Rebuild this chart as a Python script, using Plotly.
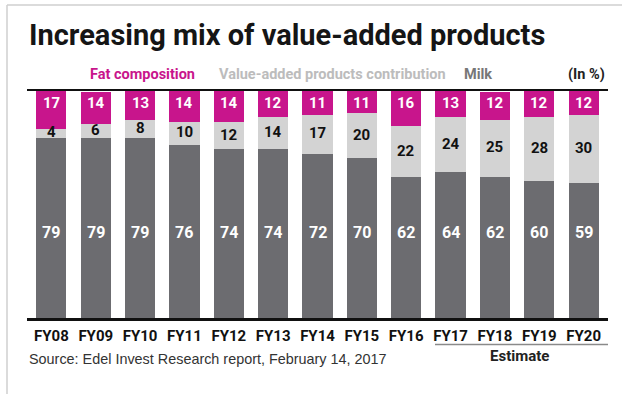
import plotly.graph_objects as go

years = ["FY08", "FY09", "FY10", "FY11", "FY12", "FY13", "FY14", "FY15", "FY16", "FY17", "FY18", "FY19", "FY20"]
milk = [79, 79, 79, 76, 74, 74, 72, 70, 62, 64, 62, 60, 59]
value_added = [4, 6, 8, 10, 12, 14, 17, 20, 22, 24, 25, 28, 30]
fat = [17, 14, 13, 14, 14, 12, 11, 11, 16, 13, 12, 12, 12]

MAGENTA = "#c8158c"
LIGHT = "#d3d3d3"
DARK = "#6c6c70"

W, H = 622, 394
L, R, T, B = 27, 14, 90, 76
pw, ph = W - L - R, H - T - B


def px_x(px):
    return (px - L) / pw


def px_y(py):
    return (H - B - py) / ph


fig = go.Figure()
fig.add_bar(x=years, y=milk, marker_color=DARK, marker_line_width=0, name="Milk")
fig.add_bar(x=years, y=value_added, marker_color=LIGHT, marker_line_width=0,
            name="Value-added products contribution")
fig.add_bar(x=years, y=fat, marker_color=MAGENTA, marker_line_width=0, name="Fat composition")

fig.update_traces(hoverinfo="skip")

annotations = []
milk_label_y = (H - B - 232) / ph * 100
fat_label_y = (H - B - 103) / ph * 100
for yr, m, v, f in zip(years, milk, value_added, fat):
    annotations.append(dict(x=yr, y=milk_label_y, xref="x", yref="y", text=str(m), showarrow=False,
                            font=dict(family="Roboto", size=16, color="white", weight="bold")))
    annotations.append(dict(x=yr, y=fat_label_y, xref="x", yref="y", text=str(f), showarrow=False,
                            font=dict(family="Roboto", size=15, color="white", weight="bold")))
    annotations.append(dict(x=yr, y=m + v / 2, xref="x", yref="y", text=str(v), showarrow=False,
                            yshift=1,
                            font=dict(family="Roboto", size=15, color="#111111", weight="bold")))

# title
annotations.append(dict(x=px_x(27), y=px_y(35), xref="paper", yref="paper", xanchor="left", yanchor="middle",
                        text="Increasing mix of value-added products", showarrow=False,
                        font=dict(family="Roboto", size=29, color="#151515", weight="bold")))
# legend texts
leg = [("Fat composition", 88, MAGENTA, 14.5), ("Value-added products contribution", 217, "#bcbcbc", 14.5),
       ("Milk", 462, "#777777", 14.5), ("(In %)", 566, "#222222", 14.5)]
for txt, x0, col, sz in leg:
    annotations.append(dict(x=px_x(x0), y=px_y(74), xref="paper", yref="paper", xanchor="left", yanchor="middle",
                            text=txt, showarrow=False,
                            font=dict(family="Roboto", size=sz, color=col, weight="bold")))
# source
annotations.append(dict(x=px_x(27), y=px_y(359), xref="paper", yref="paper", xanchor="left", yanchor="middle",
                        text="Source: Edel Invest Research report, February 14, 2017", showarrow=False,
                        font=dict(family="Liberation Sans", size=14.4, color="#333333")))
# estimate
annotations.append(dict(x=px_x(519), y=px_y(356), xref="paper", yref="paper", xanchor="center", yanchor="middle",
                        text="Estimate", showarrow=False,
                        font=dict(family="Roboto", size=15, color="#222222", weight="bold")))

shapes = [
    # top rule
    dict(type="line", xref="paper", yref="paper", x0=0, x1=1, y0=1, y1=1, line=dict(color="#111111", width=2)),
    # estimate underline
    dict(type="line", xref="paper", yref="paper", x0=px_x(435), x1=px_x(608), y0=px_y(344.5), y1=px_y(344.5),
         line=dict(color="#8a8a8a", width=1.5)),
    # frame
    dict(type="line", xref="paper", yref="paper", x0=px_x(7), x1=px_x(622), y0=px_y(5), y1=px_y(5),
         line=dict(color="#cfcfcf", width=1.5)),
    dict(type="line", xref="paper", yref="paper", x0=px_x(7), x1=px_x(7), y0=px_y(5), y1=px_y(394),
         line=dict(color="#cfcfcf", width=1.5)),
]

fig.update_layout(
    width=W, height=H, barmode="stack", bargap=0.32,
    margin=dict(l=L, r=R, t=T, b=B, pad=0),
    paper_bgcolor="white", plot_bgcolor="white",
    showlegend=False,
    annotations=annotations, shapes=shapes,
    xaxis=dict(range=[-0.55, 12.55], showgrid=False, zeroline=False, showline=True,
               linecolor="#111111", linewidth=3, ticks="outside", ticklen=2, tickcolor="rgba(0,0,0,0)",
               tickfont=dict(family="Roboto", size=15, color="#111111", weight="bold"), fixedrange=True),
    yaxis=dict(range=[0, 100], visible=False, fixedrange=True),
)

fig.write_html("out.html", config={"displayModeBar": False})
